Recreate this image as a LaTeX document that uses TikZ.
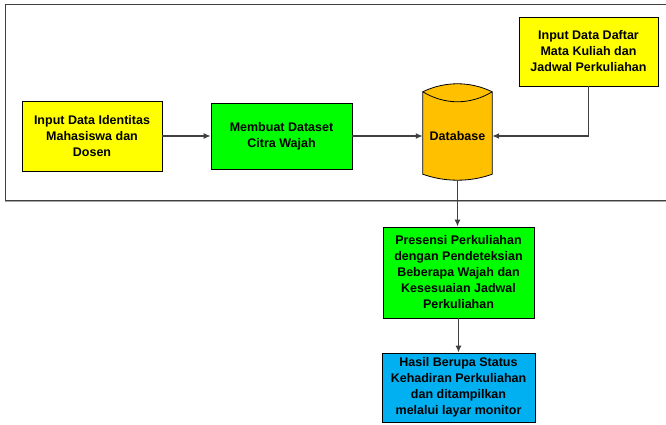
\documentclass[tikz,border=0pt]{standalone}
\usepackage{fontspec}
\setmainfont{Liberation Sans}
\usepackage{tikz}
\usetikzlibrary{calc, arrows.meta}

\definecolor{kuning}{HTML}{FFFF00}
\definecolor{hijau}{HTML}{00FF00}
\definecolor{oranye}{HTML}{FFC000}
\definecolor{biru}{HTML}{00B0F0}
\definecolor{garis}{HTML}{404040}

\begin{document}
\begin{tikzpicture}[x=1pt, y=-1pt, every node/.style={font=\bfseries\fontsize{12.5}{16}\selectfont}]
  % -----------------------------
  % STYLES
  % -----------------------------
  \tikzset{
    proc/.style={draw=black, line width=0.8pt, align=center, inner sep=0pt},
    inbox/.style={proc, fill=kuning},
    gbox/.style={proc, fill=hijau},
    bbox/.style={proc, fill=biru},
    conn/.style={draw=garis, line width=1.3pt, -{Latex[length=7pt, width=6pt]}},
  }

  \useasboundingbox (0,0) rectangle (666,425);

  % -----------------------------
  % OUTER FRAME (input area)
  % -----------------------------
  \draw[gray!70, line width=2pt] (5,201) -- (666,201);
  \draw[garis, line width=1pt] (666,5) -- (5,5) -- (5,200) -- (666,200);

  % -----------------------------
  % INPUT BOXES
  % -----------------------------
  \node[inbox, minimum width=140, minimum height=70] (inIdentitas) at (92,136)
    {Input Data Identitas\\Mahasiswa dan\\Dosen};
  \node[gbox, minimum width=141, minimum height=66] (mkDataset) at (281.5,136)
    {Membuat Dataset\\Citra Wajah};
  \node[inbox, minimum width=139, minimum height=69] (inJadwal) at (588.5,51.5)
    {Input Data Daftar\\Mata Kuliah dan\\Jadwal Perkuliahan};

  % -----------------------------
  % DATABASE (cylinder)
  % -----------------------------
  \node[minimum width=69, minimum height=88, inner sep=0pt] (db) at (457.5,136) {};
  \draw[fill=oranye, line width=0.8pt]
    (db.north west) .. controls ($(db.north west)+(22,-10.7)$) and ($(db.north east)+(-22,-10.7)$) .. (db.north east)
    -- ($(db.south east)+(0,-6)$)
    .. controls ($(db.south east)+(-22,2)$) and ($(db.south west)+(22,2)$) .. ($(db.south west)+(0,-6)$)
    -- cycle;
  \draw[line width=0.8pt]
    (db.north west) .. controls ($(db.north west)+(22,13.3)$) and ($(db.north east)+(-22,13.3)$) .. (db.north east);
  \node at (db.center) {Database};

  % -----------------------------
  % PROCESS + OUTPUT
  % -----------------------------
  \node[gbox, minimum width=151, minimum height=91] (presensi) at (458.5,272.5)
    {Presensi Perkuliahan\\dengan Pendeteksian\\Beberapa Wajah dan\\Kesesuaian Jadwal\\Perkuliahan};
  \node[bbox, minimum width=153, minimum height=69] (hasil) at (458.5,387.5)
    {Hasil Berupa Status\\Kehadiran Perkuliahan\\dan ditampilkan\\melalui layar monitor};

  % -----------------------------
  % CONNECTORS
  % -----------------------------
  \draw[conn] (inIdentitas.east) -- (mkDataset.west);
  \draw[conn] (mkDataset.east) -- (db.west);
  \draw[conn] (inJadwal.south) |- (db.east);
  \draw[conn] (db.south) -- (db.south |- presensi.north);
  \draw[conn] (presensi.south) -- (hasil.north);
\end{tikzpicture}
\end{document}
